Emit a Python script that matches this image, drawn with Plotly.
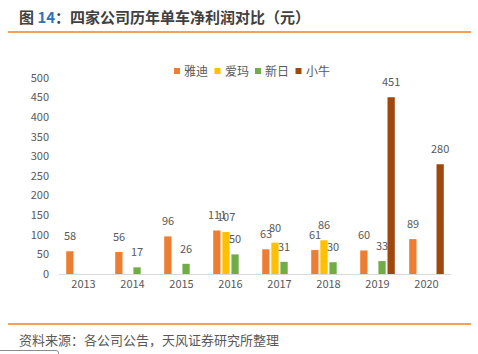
import plotly.graph_objects as go

years = ["2013", "2014", "2015", "2016", "2017", "2018", "2019", "2020"]
series_names = ["雅迪", "爱玛", "新日", "小牛"]
yadi = [58, 56, 96, 111, 63, 61, 60, 89]
aima = [None, None, None, 107, 80, 86, None, None]
xinri = [None, 17, 26, 50, 31, 30, 33, None]
xiaoniu = [None, None, None, None, None, None, 451, 280]
series_values = [yadi, aima, xinri, xiaoniu]
colors = ["#ED7D31", "#FFC000", "#70AD47", "#9E480E"]
y_ticks = [0, 50, 100, 150, 200, 250, 300, 350, 400, 450, 500]

W, H = 478, 354
ML, MR, MT, MB = 59, 27, 78, 80
FONT = "Noto Sans CJK SC, Noto Sans, sans-serif"
GRAY = "#595959"
BARGAP, BARGROUPGAP = 0.257, 0.2


def px_x(px):
    return (px - ML) / (W - ML - MR)


def px_y(py):
    return (H - MB - py) / (H - MT - MB)


fig = go.Figure()
for name, vals, col in zip(series_names, series_values, colors):
    fig.add_trace(go.Bar(
        x=years, y=vals, name=name, marker=dict(color=col, line=dict(width=0)),
        showlegend=False,
    ))

# data labels: category index on the x axis + group offset within each category
n_ser = len(series_names)
slot = (1 - BARGAP) / n_ser
annotations = []
for i, vals in enumerate(series_values):
    offset = (i - (n_ser - 1) / 2) * slot
    for j, v in enumerate(vals):
        if v is None:
            continue
        annotations.append(dict(
            x=j + offset, y=v, xref="x", yref="y", text=str(v), showarrow=False,
            yshift=16, xanchor="center", yanchor="middle",
            font=dict(family=FONT, size=11, color=GRAY)))

shapes = [
    dict(type="line", xref="paper", yref="paper", x0=px_x(8), x1=px_x(471),
         y0=px_y(32), y1=px_y(32), line=dict(color="#F0821E", width=1.5)),
    dict(type="line", xref="paper", yref="paper", x0=px_x(8), x1=px_x(471),
         y0=px_y(324), y1=px_y(324), line=dict(color="#F0821E", width=1.5)),
    dict(type="path", xref="paper", yref="paper",
         path=f"M {px_x(0)},{px_y(350.5)} L {px_x(56)},{px_y(350.5)} Q {px_x(58.5)},{px_y(350.5)} {px_x(58.5)},{px_y(353)} L {px_x(58.5)},{px_y(356)}",
         line=dict(color="#8C8C8C", width=1)),
]
annotations += [
    dict(text="<b>图 <span style='color:#2E75B6'>14</span>：四家公司历年单车净利润对比（元）</b>",
         xref="paper", yref="paper", x=px_x(17), y=px_y(16), xanchor="left", yanchor="middle",
         showarrow=False, font=dict(family=FONT, size=15, color="#404040")),
    dict(text="资料来源：各公司公告，天风证券研究所整理",
         xref="paper", yref="paper", x=px_x(17), y=px_y(339), xanchor="left", yanchor="middle",
         showarrow=False, font=dict(family=FONT, size=13, color=GRAY)),
]
for i, (name, col) in enumerate(zip(series_names, colors)):
    x0 = 174 + 40.5 * i
    shapes.append(dict(type="rect", xref="paper", yref="paper",
                       x0=px_x(x0), x1=px_x(x0 + 6), y0=px_y(68), y1=px_y(74),
                       fillcolor=col, line=dict(width=0)))
    annotations.append(dict(text=name, xref="paper", yref="paper", x=px_x(x0 + 8), y=px_y(71),
                            xanchor="left", yanchor="middle", showarrow=False,
                            font=dict(family=FONT, size=12, color=GRAY)))

fig.update_layout(
    width=W, height=H, margin=dict(l=ML, r=MR, t=MT, b=MB),
    paper_bgcolor="white", plot_bgcolor="white",
    barmode="group", bargap=BARGAP, bargroupgap=BARGROUPGAP,
    font=dict(family=FONT, size=11, color=GRAY),
    shapes=shapes, annotations=annotations,
    xaxis=dict(type="category", range=[-0.5, len(years) - 0.5], showline=True,
               linecolor="#D9D9D9", linewidth=1, ticks="",
               showgrid=False, tickfont=dict(size=11, color=GRAY)),
    yaxis=dict(range=[0, 500], tickvals=y_ticks, showgrid=False, zeroline=False,
               showline=False, ticks="", ticklabelstandoff=9,
               tickfont=dict(size=11, color=GRAY)),
)

fig.write_html("out.html")
